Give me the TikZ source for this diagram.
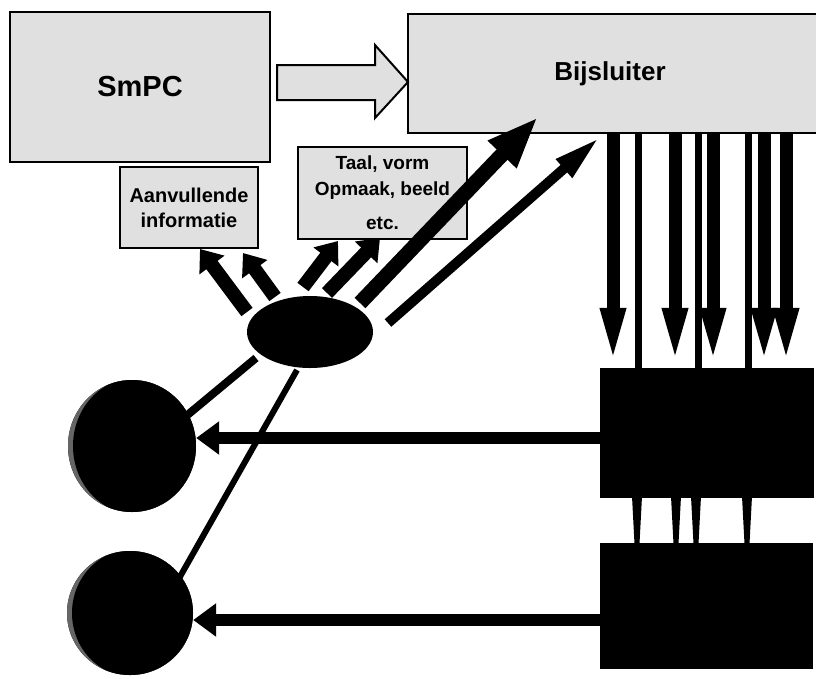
\documentclass[tikz,border=0pt]{standalone}
\usepackage{fontspec}
\setmainfont{Liberation Sans}
\usetikzlibrary{arrows.meta,calc,shapes.geometric}
\begin{document}
\begin{tikzpicture}[x=1pt,y=-1pt,
  lbox/.style={draw=black,line width=2.5pt,fill=black!12,inner sep=0pt,align=center},
  dbox/.style={fill=black,draw=black,inner sep=0pt},
  sarr/.style={line width=14pt,-{Triangle[length=20pt,width=30pt]}},
  barr/.style={line width=15pt,-{Triangle[length=52pt,width=36pt]}},
  tarr/.style={line width=10pt,-{Triangle[length=48pt,width=22pt]}},
  varr/.style={line width=13pt,-{Triangle[length=60pt,width=22pt]}},
  vline/.style={line width=7pt},
  harr/.style={line width=12pt,-{Triangle[length=23pt,width=32pt]}},
  sph/.style={ellipse,fill=black,inner sep=0pt},
  taper/.style={fill=black}
]
\useasboundingbox (0,0) rectangle (816,678);
\fill[white] (0,0) rectangle (816,678);

% boxes
\node[lbox,minimum width=260pt,minimum height=150pt,
  font=\fontsize{29}{32}\selectfont\bfseries] (smpc) at (140,87) {SmPC};
\node[lbox,minimum width=412pt,minimum height=119pt,
  font=\fontsize{26}{28}\selectfont\bfseries] (bij) at (614,73.5)
  {\hspace*{-8pt}Bijsluiter};
\node[lbox,minimum width=138pt,minimum height=81pt,
  font=\fontsize{20}{25}\selectfont\bfseries] (aan) at (189,207.5)
  {Aanvullende\\ informatie};
\node[lbox,minimum width=169pt,minimum height=92pt,
  font=\fontsize{19}{26}\selectfont\bfseries] (taal) at (382.5,193)
  {Taal, vorm\\ Opmaak, beeld\\[8pt] etc.};

% hollow arrow SmPC -> Bijsluiter
\draw[line width=2pt,fill=black!12] (277,65) -- (375,65) -- (375,45) -- (408,82)
  -- (375,118) -- (375,100) -- (277,100) -- cycle;

% central ellipse
\node[ellipse,fill=black,minimum width=126pt,minimum height=72pt,inner sep=0pt] (ell) at (310,332) {};

% arrows from ellipse
\coordinate (a1s) at (247,312); \coordinate (a1e) at (200,249);
\coordinate (a2s) at (275,297); \coordinate (a2e) at (243,253);
\coordinate (a3s) at (303,287); \coordinate (a3e) at (338,241);
\coordinate (a4s) at (327,293); \coordinate (a4e) at (380,238);
\coordinate (a5s) at (360,303); \coordinate (a5e) at (538,117);
\coordinate (a6s) at (388,323); \coordinate (a6e) at (600,137);
\draw[sarr] (a1s) -- (a1e);
\draw[sarr] (a2s) -- (a2e);
\draw[sarr] (a3s) -- (a3e);
\draw[sarr] (a4s) -- (a4e);
\draw[barr] (a5s) -- (a5e);
\draw[tarr] (a6s) -- (a6e);

% black boxes
\node[dbox,minimum width=213pt,minimum height=129pt] (top) at (706.5,432.5) {};
\node[dbox,minimum width=212pt,minimum height=125pt] (bot) at (706,605.5) {};

% vertical connectors
\foreach \x in {613,675,713,764,786}
  \draw[varr] (\x,0 |- bij.south) -- (\x,0 |- top.north);
\foreach \x in {638,698,748}
  \draw[vline] (\x,0 |- bij.south) -- (\x,0 |- top.north);
\foreach \x in {637,676,696,747}
  \fill[taper] ($(\x,0 |- top.south)+(-5,-1)$) -- ($(\x,0 |- top.south)+(5,-1)$)
    -- ($(\x,0 |- bot.north)+(2.5,1)$) -- ($(\x,0 |- bot.north)+(-2.5,1)$) -- cycle;

% spheres
\node[sph,minimum width=128pt,minimum height=132pt] (s1) at (132,446) {};
\node[sph,minimum width=126pt,minimum height=124pt] (s2) at (130,613) {};
\begin{scope}
  \clip (s1.center) ellipse [x radius=64pt,y radius=66pt];
  \fill[black!60] (s1.center) ellipse [x radius=64pt,y radius=66pt];
  \fill[black] ($(s1.center)+(3,0)$) ellipse [x radius=62pt,y radius=68pt];
\end{scope}
\begin{scope}
  \clip (s2.center) ellipse [x radius=63pt,y radius=62pt];
  \fill[black!60] (s2.center) ellipse [x radius=63pt,y radius=62pt];
  \fill[black] ($(s2.center)+(3,0)$) ellipse [x radius=61pt,y radius=64pt];
\end{scope}

% lines ellipse -> spheres
\coordinate (l1s) at (256,358); \coordinate (l1e) at (185,417);
\coordinate (l2s) at (297,370); \coordinate (l2e) at (177,582);
\draw[line width=8pt] (l1s) -- (l1e);
\draw[line width=6pt] (l2s) -- (l2e);

% horizontal arrows
\draw[harr] (top.west |- 0,438) -- (s1.east |- 0,438);
\draw[harr] (bot.west |- 0,620) -- (s2.east |- 0,620);
\end{tikzpicture}
\end{document}
